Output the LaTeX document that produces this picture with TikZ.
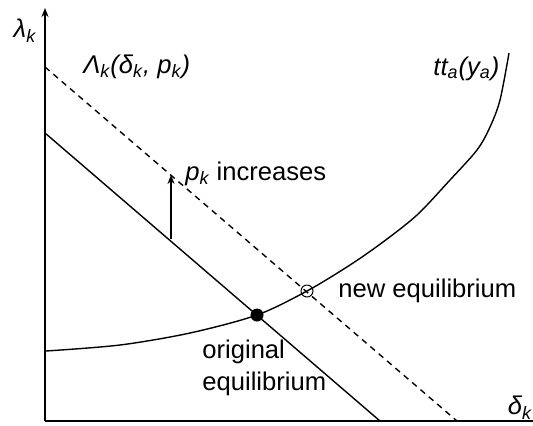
\documentclass[tikz,border=0pt]{standalone}
\usepackage{fontspec}
\setmainfont{Liberation Sans}
\usetikzlibrary{arrows.meta}

\begin{document}
\begin{tikzpicture}[x=0.5pt,y=0.5pt,
  every node/.style={font=\fontsize{12.8}{15.5}\selectfont},
  lbl/.style={anchor=base west,inner sep=0pt},
  axis/.style={line width=0.9pt},
  curve/.style={line width=0.7pt},
  eqpt/.style={circle,draw,line width=0.5pt,minimum size=6pt,inner sep=0pt}]
\useasboundingbox (0,0) rectangle (533,425);

% axes
\coordinate (O) at (45,4);
\coordinate (ytop) at (45,417);
\coordinate (xend) at (533,4);
\draw[axis,-{Stealth[length=4.5pt,width=3.5pt]}] (O) -- (ytop);
\draw[axis] (O) -- (xend);
\node (ylab) at (25,394) {\itshape λ\textsubscript{k}};
\node (xlab) at (520,17) {\itshape δ\textsubscript{k}};

% demand lines
\coordinate (s1) at (45,292);
\coordinate (s2) at (380,4);
\coordinate (d1) at (45,358);
\coordinate (d2) at (457,4);
\draw[curve] (s1) -- (s2);
\draw[curve,dashed,dash pattern=on 3pt off 2.5pt] (d1) -- (d2);
\node[lbl] (lamlab) at (83,352) {\itshape Λ\textsubscript{k}(δ\textsubscript{k}, p\textsubscript{k})};

% travel time curve
\draw[curve] plot[smooth] coordinates {(46,74) (120,80) (190,92) (257,110)
  (307,134) (350,160) (383,183) (417,210) (450,245) (477,275) (490,298)
  (500,325) (509,372)};
\node[lbl] (ttlab) at (433,350) {\itshape tt\textsubscript{a}(y\textsubscript{a})};

% shift
\coordinate (a0) at (171,186);
\coordinate (a1) at (171,250);
\draw[curve,-{Stealth[length=4.5pt,width=3.5pt]}] (a0) -- (a1);
\node[lbl] (inclab) at (185,245) {\textit{p\textsubscript{k}} increases};

% equilibria
\node[eqpt,fill=black] (eq0) at (257,110) {};
\node[eqpt] (eq1) at (307,134) {};
\node[lbl] (neweq) at (338,128) {new equilibrium};
\node[lbl] (origeq) at (202,67) {original};
\node[lbl] (origeq2) at (202,35) {equilibrium};
\end{tikzpicture}
\end{document}
